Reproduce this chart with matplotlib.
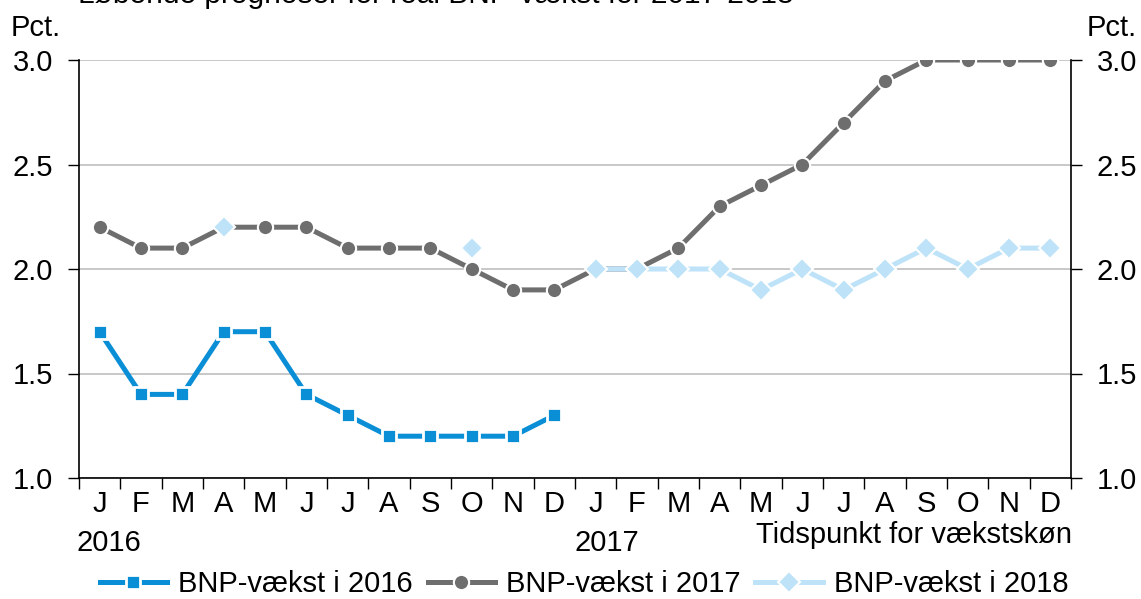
import numpy as np
import matplotlib
matplotlib.use("Agg")
import matplotlib.pyplot as plt

plt.rcParams['font.family'] = ['Liberation Sans', 'DejaVu Sans']

months = ['J', 'F', 'M', 'A', 'M', 'J', 'J', 'A', 'S', 'O', 'N', 'D'] * 2
years = ['2016', '2017']
nan = np.nan
bnp_2016 = [1.7, 1.4, 1.4, 1.7, 1.7, 1.4, 1.3, 1.2, 1.2, 1.2, 1.2, 1.3]
bnp_2017 = [2.2, 2.1, 2.1, 2.2, 2.2, 2.2, 2.1, 2.1, 2.1, 2.0, 1.9, 1.9,
            2.0, 2.0, 2.1, 2.3, 2.4, 2.5, 2.7, 2.9, 3.0, 3.0, 3.0, 3.0]
bnp_2018 = [nan, nan, nan, 2.2, nan, nan, nan, nan, nan, 2.1, nan, nan,
            2.0, 2.0, 2.0, 2.0, 1.9, 2.0, 1.9, 2.0, 2.1, 2.0, 2.1, 2.1]

c16 = '#0A8ED6'
c17 = '#6E6E6E'
c18 = '#BEE3F8'
fs = 21

fig = plt.figure(figsize=(11.41, 5.99), dpi=100)
ax = fig.add_axes([79/1141, 1 - 478/599, (1071 - 79)/1141, (478 - 60)/599])

x = np.arange(24)
ax.plot(x[:12], bnp_2016, color=c16, lw=3.6, marker='s', ms=10,
        mec='white', mew=2, label='BNP-vækst i 2016', zorder=3)
ax.plot(x, bnp_2017, color=c17, lw=3.6, marker='o', ms=11,
        mec='white', mew=1.5, label='BNP-vækst i 2017', zorder=3)
ax.plot(x, bnp_2018, color=c18, lw=3.6, marker='D', ms=11.5,
        mec='white', mew=1.5, label='BNP-vækst i 2018', zorder=4)

ax.set_xlim(-0.5, 23.5)
ax.set_ylim(1.0, 3.0)
ax.set_yticks([1.0, 1.5, 2.0, 2.5, 3.0])
ax.set_yticklabels(['1.0', '1.5', '2.0', '2.5', '3.0'])
ax.yaxis.grid(True, color='#C4C4C4', lw=1.3)
ax.set_axisbelow(True)

ax.set_xticks(np.arange(-0.5, 24, 1))
ax.set_xticklabels([])
ax.set_xticks(x, minor=True)
ax.set_xticklabels(months, minor=True)
ax.tick_params(axis='x', which='major', direction='out', length=8, width=1)
ax.tick_params(axis='x', which='minor', length=0, pad=9, labelsize=fs)
ax.tick_params(axis='y', direction='out', length=8, width=1, labelsize=fs,
               left=True, right=True, labelleft=True, labelright=True, pad=10.5)

for s in ['left', 'right', 'bottom']:
    ax.spines[s].set_color('black')
    ax.spines[s].set_linewidth(1.2)
ax.spines['top'].set_visible(False)

fig.text(77/1141, 1 - 551/599, years[0], fontsize=fs, ha='left', va='baseline')
fig.text(575/1141, 1 - 551/599, years[1], fontsize=fs, ha='left', va='baseline')
fig.text(1072/1141, 1 - 543/599, 'Tidspunkt for vækstskøn', fontsize=fs,
         ha='right', va='baseline')
fig.text(11/1141, 1 - 36/599, 'Pct.', fontsize=fs, ha='left', va='baseline')
fig.text(1137/1141, 1 - 36/599, 'Pct.', fontsize=fs, ha='right', va='baseline')
fig.text(78/1141, 1 - 3/599, 'Løbende prognoser for real BNP-vækst for 2017-2018',
         fontsize=21.5, ha='left', va='baseline')

fig.legend(loc='lower center', bbox_to_anchor=(0.512, -0.032), ncol=3,
           frameon=False, fontsize=fs, handlelength=2.3, columnspacing=0.5,
           handletextpad=0.4, borderpad=0.2)

fig.savefig('out.png', dpi=100)
